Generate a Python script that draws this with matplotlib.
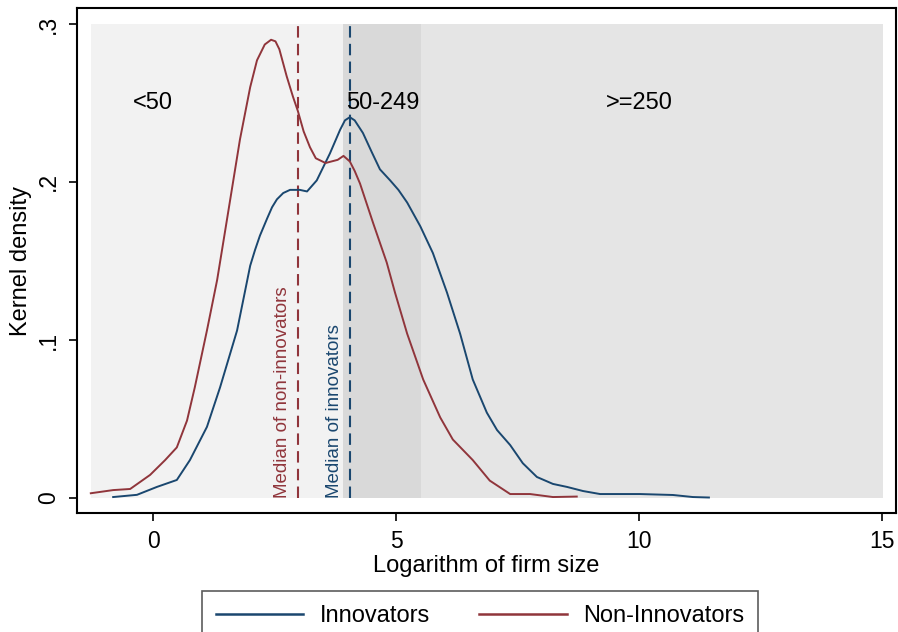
import numpy as np
import matplotlib
matplotlib.use("Agg")
import matplotlib.pyplot as plt

plt.rcParams['font.family'] = ['Liberation Sans', 'DejaVu Sans']

innov_x = [-0.82, -0.33, 0.08, 0.49, 0.76, 1.11, 1.38, 1.73, 2.00, 2.10, 2.20, 2.35,
           2.45, 2.55, 2.68, 2.82, 3.02, 3.17, 3.37, 3.64, 3.85, 3.95, 4.05, 4.15,
           4.32, 4.50, 4.67, 4.88, 5.05, 5.23, 5.50, 5.76, 6.05, 6.32, 6.58, 6.87,
           7.08, 7.35, 7.61, 7.90, 8.23, 8.52, 8.85, 9.20, 10.02, 10.70, 11.11, 11.44]
innov_y = [0.0006, 0.002, 0.007, 0.0114, 0.024, 0.045, 0.070, 0.106, 0.147, 0.157,
           0.166, 0.177, 0.184, 0.189, 0.193, 0.195, 0.195, 0.194, 0.201, 0.218,
           0.233, 0.239, 0.241, 0.239, 0.231, 0.219, 0.208, 0.201, 0.195, 0.187,
           0.172, 0.155, 0.130, 0.104, 0.075, 0.054, 0.043, 0.0335, 0.022, 0.0133,
           0.0089, 0.007, 0.0044, 0.0025, 0.0025, 0.0019, 0.0006, 0.0003]

non_x = [-1.28, -0.82, -0.47, -0.06, 0.25, 0.49, 0.70, 0.86, 1.11, 1.32, 1.50, 1.79,
         2.00, 2.14, 2.30, 2.43, 2.52, 2.60, 2.75, 2.88, 2.98, 3.10, 3.23, 3.35,
         3.55, 3.80, 3.92, 4.05, 4.15, 4.26, 4.53, 4.81, 4.98, 5.23, 5.56, 5.91,
         6.17, 6.58, 6.93, 7.35, 7.76, 8.23, 8.72]
non_y = [0.003, 0.005, 0.0057, 0.0146, 0.024, 0.032, 0.049, 0.070, 0.106, 0.138,
         0.172, 0.227, 0.260, 0.277, 0.287, 0.290, 0.289, 0.284, 0.267, 0.254,
         0.245, 0.232, 0.222, 0.215, 0.212, 0.214, 0.2165, 0.213, 0.207, 0.199,
         0.174, 0.149, 0.130, 0.104, 0.075, 0.051, 0.037, 0.024, 0.011, 0.0025,
         0.0025, 0.0006, 0.0009]

med_innov = 4.05
med_non = 2.98

# size classes: <50, 50-249, >=250 employees (log scale)
band_edges = [-1.28, np.log(50), np.log(250), 15.02]
band_labels = ['<50', '50-249', '>=250']
band_label_x = [0.0, 4.72, 10.0]
band_colors = ['#f2f2f2', '#d9d9d9', '#e5e5e5']
band_top = 0.3

blue = '#1a476f'
red = '#90353b'

fig = plt.figure(figsize=(8.98, 6.32), dpi=100)
ax = fig.add_axes([77/898, 1-513/632, (896-77)/898, (513-8)/632])

for i in range(3):
    ax.bar(band_edges[i], band_top, width=band_edges[i+1]-band_edges[i],
           align='edge', color=band_colors[i], linewidth=0, zorder=0)
    ax.text(band_label_x[i], 0.25, band_labels[i], ha='center', va='center',
            fontsize=17, zorder=5)

ax.plot(innov_x, innov_y, color=blue, lw=1.4, label='Innovators', zorder=3)
ax.plot(non_x, non_y, color=red, lw=1.4, label='Non-Innovators', zorder=3)

ax.plot([med_non, med_non], [0, band_top], color=red, lw=1.5,
        dashes=(5.5, 3), zorder=2)
ax.plot([med_innov, med_innov], [0, band_top], color=blue, lw=1.5,
        dashes=(5.5, 3), zorder=2)
ax.text(med_non - 0.31, 0.0, 'Median of non-innovators', rotation=90,
        ha='center', va='bottom', color=red, fontsize=13.5, zorder=4)
ax.text(med_innov - 0.32, 0.0, 'Median of innovators', rotation=90,
        ha='center', va='bottom', color=blue, fontsize=13.5, zorder=4)

ax.set_xlim(-1.564, 15.29)
ax.set_ylim(-0.0095, 0.3101)
ax.set_xticks([0, 5, 10, 15])
ax.set_yticks([0, 0.1, 0.2, 0.3])
ax.set_yticklabels(['0', '.1', '.2', '.3'], rotation=90, va='center')
ax.tick_params(axis='both', labelsize=16.5, length=6, width=1.2, pad=6)
for s in ax.spines.values():
    s.set_linewidth(1.5)
ax.set_xlabel('Logarithm of firm size', fontsize=17, labelpad=2)
ax.set_ylabel('Kernel density', fontsize=17, labelpad=4)

leg = fig.legend(handles=ax.get_lines()[:2], loc='upper center',
                 bbox_to_anchor=(480/898, 1-591/632), ncol=2, fontsize=17,
                 frameon=True, fancybox=False, edgecolor='#333333',
                 handlelength=3.7, handletextpad=0.68, columnspacing=2.1,
                 borderpad=0.6, borderaxespad=0)
leg.get_frame().set_linewidth(1.2)
for h in leg.get_lines():
    h.set_linewidth(1.8)

fig.savefig('out.png', dpi=100)
